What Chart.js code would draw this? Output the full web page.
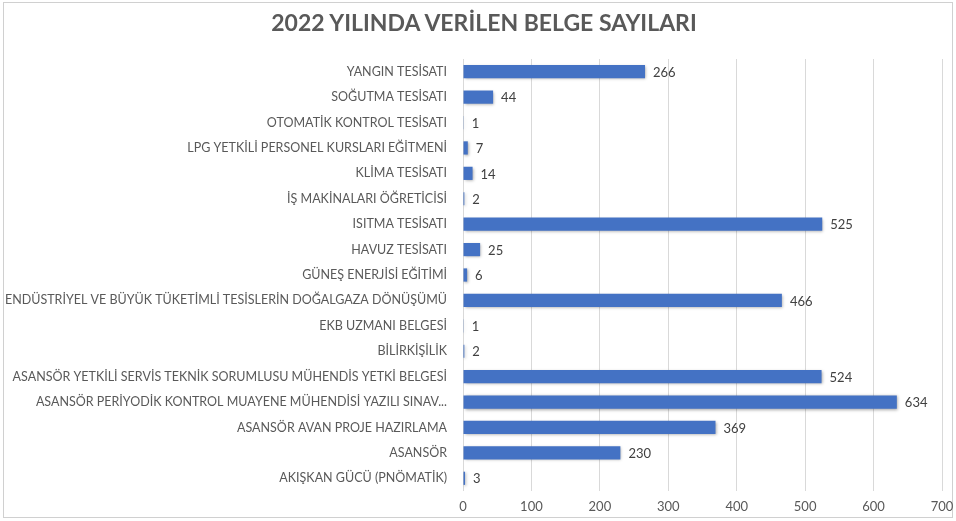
<!DOCTYPE html>
<html>
<head>
<meta charset="utf-8">
<script src="https://cdn.jsdelivr.net/npm/chart.js@4"></script>
<style>
  html, body { margin: 0; padding: 0; background: #fff; }
  #wrap { position: relative; width: 956px; height: 521px; }
  #title {
    position: absolute; left: 12px; top: 6px; width: 944px;
    text-align: center; font: bold 23px Lato, "Open Sans", sans-serif;
    color: #595959; line-height: 32px;
  }
</style>
</head>
<body>
<div id="wrap">
  <canvas id="chart" width="956" height="521"></canvas>
  <div id="title"></div>
</div>
<script>
const chartTitle = '2022 YILINDA VERİLEN BELGE SAYILARI';

const categories = [
    'YANGIN TESİSATI',
    'SOĞUTMA TESİSATI',
    'OTOMATİK KONTROL TESİSATI',
    'LPG YETKİLİ PERSONEL KURSLARI EĞİTMENİ',
    'KLİMA TESİSATI',
    'İŞ MAKİNALARI ÖĞRETİCİSİ',
    'ISITMA TESİSATI',
    'HAVUZ TESİSATI',
    'GÜNEŞ ENERJİSİ EĞİTİMİ',
    'ENDÜSTRİYEL VE BÜYÜK TÜKETİMLİ TESİSLERİN DOĞALGAZA DÖNÜŞÜMÜ',
    'EKB UZMANI BELGESİ',
    'BİLİRKİŞİLİK',
    'ASANSÖR YETKİLİ SERVİS TEKNİK SORUMLUSU MÜHENDİS YETKİ BELGESİ',
    'ASANSÖR PERİYODİK KONTROL MUAYENE MÜHENDİSİ YAZILI SINAV...',
    'ASANSÖR AVAN PROJE HAZIRLAMA',
    'ASANSÖR',
    'AKIŞKAN GÜCÜ (PNÖMATİK)'
];

const counts = [266, 44, 1, 7, 14, 2, 525, 25, 6, 466, 1, 2, 524, 634, 369, 230, 3];

const xTicks = [0, 100, 200, 300, 400, 500, 600, 700];

const FONT = 'Lato, "Open Sans", sans-serif';
const TEXT = '#595959';

document.getElementById('title').textContent = chartTitle;

// value printed at the end of each bar
const valueLabels = {
    id: 'valueLabels',
    afterDatasetsDraw(chart) {
        const ctx = chart.ctx;
        const meta = chart.getDatasetMeta(0);
        ctx.save();
        ctx.font = '13px ' + FONT;
        ctx.fillStyle = '#404040';
        ctx.textAlign = 'left';
        ctx.textBaseline = 'middle';
        meta.data.forEach((bar, i) => {
            ctx.fillText(String(counts[i]), bar.x + 8, bar.y + 1);
        });
        ctx.restore();
    }
};

// soft shadow under the bars, like the office original
const barShadow = {
    id: 'barShadow',
    beforeDatasetsDraw(chart) {
        const ctx = chart.ctx;
        ctx.save();
        ctx.shadowColor = 'rgba(0, 0, 0, 0.35)';
        ctx.shadowBlur = 3;
        ctx.shadowOffsetX = 1;
        ctx.shadowOffsetY = 1;
    },
    afterDatasetsDraw(chart) {
        chart.ctx.restore();
    }
};

// thin grey frame round the whole chart
const frame = {
    id: 'frame',
    beforeDraw(chart) {
        const ctx = chart.ctx;
        ctx.save();
        ctx.fillStyle = '#fff';
        ctx.fillRect(0, 0, chart.width, chart.height);
        ctx.strokeStyle = '#d0d0d0';
        ctx.lineWidth = 1;
        ctx.strokeRect(3.5, 2.5, chart.width - 7, chart.height - 6);
        ctx.restore();
    }
};

new Chart(document.getElementById('chart'), {
    type: 'bar',
    data: {
        labels: categories,
        datasets: [{
            data: counts,
            backgroundColor: '#4472C4',
            borderWidth: 0,
            barPercentage: 0.52,
            categoryPercentage: 1
        }]
    },
    options: {
        indexAxis: 'y',
        responsive: false,
        animation: false,
        layout: { padding: { left: 4, right: 14, top: 59, bottom: 4 } },
        plugins: {
            legend: { display: false },
            tooltip: { enabled: false },
            title: { display: false }
        },
        scales: {
            x: {
                min: xTicks[0],
                max: xTicks[xTicks.length - 1],
                afterBuildTicks: s => { s.ticks = xTicks.map(v => ({ value: v })); },
                afterFit: s => { s.height = 26; s.paddingRight = 0; s.paddingLeft = 0; },
                grid: { color: '#d9d9d9', drawTicks: false },
                border: { display: false },
                ticks: {
                    color: TEXT,
                    padding: 8,
                    font: { family: FONT, size: 13 }
                }
            },
            y: {
                afterFit: s => { s.width = 459; s.paddingTop = 0; s.paddingBottom = 0; },
                grid: { display: false },
                border: { display: false },
                ticks: {
                    color: TEXT,
                    padding: 8,
                    autoSkip: false,
                    font: { family: FONT, size: 12.5 }
                }
            }
        }
    },
    plugins: [frame, barShadow, valueLabels]
});
</script>
</body>
</html>
